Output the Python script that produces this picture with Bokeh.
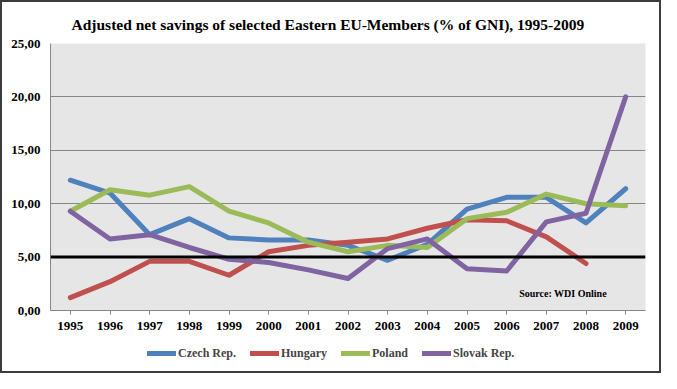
import numpy as np
from bokeh.plotting import figure
from bokeh.layouts import column
from bokeh.models import FixedTicker, Span, Label, Legend, LegendItem
from bokeh.embed import file_html
from bokeh.resources import INLINE

years = [1995, 1996, 1997, 1998, 1999, 2000, 2001, 2002, 2003, 2004, 2005, 2006, 2007, 2008, 2009]
czech = [12.2, 11.0, 7.1, 8.6, 6.8, 6.6, 6.6, 6.1, 4.7, 6.2, 9.5, 10.6, 10.6, 8.2, 11.4]
hungary = [1.2, 2.7, 4.6, 4.6, 3.3, 5.5, 6.1, 6.4, 6.7, 7.7, 8.5, 8.4, 6.9, 4.4, np.nan]
poland = [9.3, 11.3, 10.8, 11.6, 9.3, 8.2, 6.4, 5.5, 6.1, 5.9, 8.6, 9.2, 10.9, 10.0, 9.8]
slovak = [9.3, 6.7, 7.1, 5.9, 4.8, 4.5, 3.8, 3.0, 5.8, 6.7, 3.9, 3.7, 8.3, 9.1, 20.0]
series_names = ["Czech Rep.", "Hungary", "Poland", "Slovak Rep."]
series_colors = ["#4F81BD", "#C0504D", "#9BBB59", "#8064A2"]
y_ticks = [0, 5, 10, 15, 20, 25]
y_tick_labels = ["0,00", "5,00", "10,00", "15,00", "20,00", "25,00"]
threshold = 5
title_text = "Adjusted net savings of selected Eastern EU-Members (% of GNI), 1995-2009"
source_text = "Source: WDI Online"

FONT = "Liberation Serif"

p = figure(width=657, height=333, x_range=(1994.5, 2009.5), y_range=(0, 25),
           output_backend="svg", toolbar_location=None,
           min_border_left=48, min_border_right=14, min_border_top=41, min_border_bottom=25,
           background_fill_color="#e6e6e6", border_fill_color="white",
           outline_line_color=None)

p.title.text = title_text
p.title.text_font = FONT
p.title.text_font_style = "bold"
p.title.text_font_size = "15.5px"
p.title.text_color = "black"
p.title.align = "left"
p.title.offset = 21
p.title.standoff = 21

p.xgrid.visible = False
p.ygrid.grid_line_color = "#868686"
p.ygrid.grid_line_width = 1

p.xaxis.ticker = FixedTicker(ticks=years)
p.yaxis.ticker = FixedTicker(ticks=y_ticks)
p.yaxis.major_label_overrides = {t: l for t, l in zip(y_ticks, y_tick_labels)}
for ax in (p.xaxis, p.yaxis):
    ax.axis_line_color = "#868686"
    ax.major_tick_line_color = "#868686"
    ax.minor_tick_line_color = None
    ax.major_tick_in = 0
    ax.major_label_text_font = FONT
    ax.major_label_text_font_style = "bold"
    ax.major_label_text_font_size = "13px"
    ax.major_label_text_color = "black"
p.xaxis.major_tick_out = 4
p.xaxis.major_label_standoff = 7
p.yaxis.major_tick_out = 0
p.yaxis.major_label_standoff = 10

series = [czech, hungary, poland, slovak]
for data, col in zip(series, series_colors):
    p.line(years, data, line_color=col, line_width=5, line_join="round", line_cap="round")

p.add_layout(Span(location=threshold, dimension="width", line_color="black", line_width=3))

p.add_layout(Label(x=2007.42, y=1.6, text=source_text, text_align="center", text_baseline="middle",
                   text_font=FONT, text_font_style="bold", text_font_size="10px", text_color="black"))

# legend strip below the chart
p2 = figure(width=657, height=36, x_range=(0, 1), y_range=(0, 1),
            output_backend="svg", toolbar_location=None,
            x_axis_location=None, y_axis_location=None,
            min_border_left=0, min_border_right=0, min_border_top=0, min_border_bottom=0,
            background_fill_color="white", border_fill_color="white", outline_line_color=None)
p2.xgrid.visible = False
p2.ygrid.visible = False
items = []
for name, col in zip(series_names, series_colors):
    r = p2.line([np.nan, np.nan], [np.nan, np.nan], line_color=col, line_width=5, line_cap="round")
    items.append(LegendItem(label=name, renderers=[r]))
legend = Legend(items=items, orientation="horizontal", location=(97, 8),
                label_text_font=FONT, label_text_font_style="bold", label_text_font_size="12px",
                glyph_width=29, label_standoff=2, spacing=14, padding=2, margin=0,
                border_line_color=None, background_fill_alpha=0)
p2.add_layout(legend, "center")

layout = column(p, p2, spacing=0, styles={"border": "2px solid #3c3c3c"})

open("out.html", "w").write(file_html(layout, INLINE))
